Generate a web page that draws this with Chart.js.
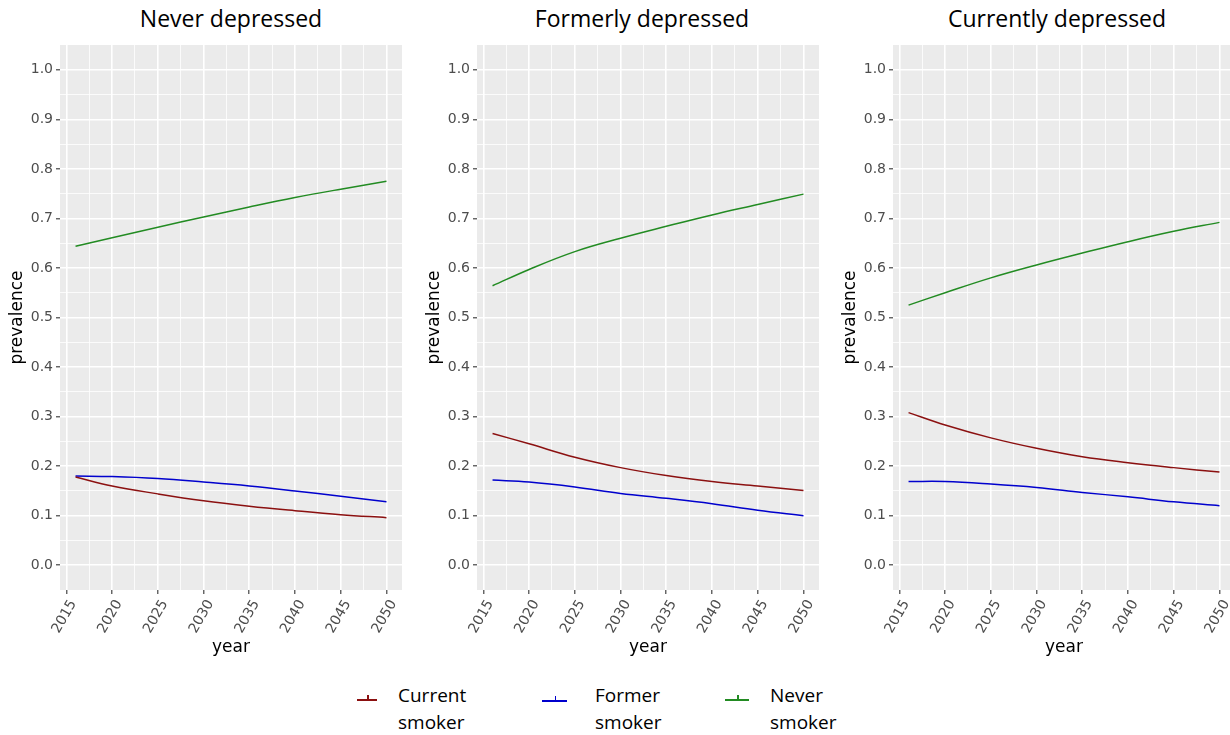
<!DOCTYPE html>
<html>
<head>
<meta charset="utf-8">
<script src="https://cdn.jsdelivr.net/npm/chart.js@4/dist/chart.umd.min.js"></script>
<style>
  body { margin: 0; width: 1230px; height: 735px; overflow: hidden; background: #fff; position: relative; }
  .panel { position: absolute; top: 45px; width: 402px; height: 615px; }
  .title { position: absolute; top: 7px; width: 300px; text-align: center; font-family: "Open Sans", sans-serif; font-size: 23px; line-height: 23px; color: #000; }
  .key { position: absolute; height: 2px; }
  .key span { position: absolute; left: 50%; top: -4px; width: 1.5px; height: 5px; background: inherit; }
  .keytext { position: absolute; top: 682px; font-family: "Open Sans", sans-serif; font-size: 19px; line-height: 27px; color: #000; }
</style>
</head>
<body>
<div class="title" style="left:81px">Never depressed</div>
<div class="title" style="left:492px">Formerly depressed</div>
<div class="title" style="left:907px">Currently depressed</div>

<div class="panel" style="left:0px"><canvas id="c1" width="402" height="615"></canvas></div>
<div class="panel" style="left:417px"><canvas id="c2" width="402" height="615"></canvas></div>
<div class="panel" style="left:833px"><canvas id="c3" width="402" height="615"></canvas></div>

<div class="key" style="left:357px;top:699px;width:20px;background:#8b1010"><span></span></div>
<div class="keytext" style="left:398px">Current<br>smoker</div>
<div class="key" style="left:542px;top:700px;width:25px;background:#0000cd"><span></span></div>
<div class="keytext" style="left:595px">Former<br>smoker</div>
<div class="key" style="left:725px;top:699px;width:24px;background:#228b22"><span></span></div>
<div class="keytext" style="left:770px">Never<br>smoker</div>

<script>
const years = [2016, 2020, 2025, 2030, 2035, 2040, 2045, 2050];

const neverDepCurrent = [0.178, 0.160, 0.144, 0.130, 0.119, 0.110, 0.102, 0.096];
const neverDepFormer = [0.180, 0.179, 0.175, 0.168, 0.160, 0.150, 0.139, 0.128];
const neverDepNever = [0.644, 0.661, 0.682, 0.703, 0.723, 0.742, 0.759, 0.775];

const formerDepCurrent = [0.266, 0.245, 0.218, 0.197, 0.181, 0.169, 0.160, 0.151];
const formerDepFormer = [0.172, 0.168, 0.158, 0.145, 0.135, 0.124, 0.111, 0.100];
const formerDepNever = [0.564, 0.597, 0.633, 0.660, 0.684, 0.707, 0.728, 0.749];

const currentDepCurrent = [0.308, 0.283, 0.257, 0.236, 0.219, 0.207, 0.197, 0.188];
const currentDepFormer = [0.169, 0.169, 0.164, 0.157, 0.147, 0.138, 0.128, 0.120];
const currentDepNever = [0.525, 0.550, 0.580, 0.606, 0.630, 0.653, 0.674, 0.692];

const xTicks = [2015, 2020, 2025, 2030, 2035, 2040, 2045, 2050];
const yTicks = [0, 0.1, 0.2, 0.3, 0.4, 0.5, 0.6, 0.7, 0.8, 0.9, 1.0];

const tickFont = { family: "DejaVu Sans", size: 14 };
const axisFont = { family: "DejaVu Sans", size: 17 };

// major ticks plus the ggplot-style minor breaks halfway between them
const xAll = [];
xTicks.forEach((v, i) => {
  xAll.push(v);
  if (i < xTicks.length - 1) xAll.push((v + xTicks[i + 1]) / 2);
});
const yAll = [];
yTicks.forEach((v, i) => {
  yAll.push(v);
  if (i < yTicks.length - 1) yAll.push((v + yTicks[i + 1]) / 2);
});

const isMajorX = v => xTicks.includes(v);
const isMajorY = v => yTicks.some(t => Math.abs(t - v) < 1e-9);

const panelBg = {
  id: "panelBg",
  beforeDraw(chart) {
    const a = chart.chartArea;
    chart.ctx.save();
    chart.ctx.fillStyle = "#ebebeb";
    chart.ctx.fillRect(a.left, a.top, a.right - a.left, a.bottom - a.top);
    chart.ctx.restore();
  }
};

function line(values, color) {
  return {
    data: years.map((y, i) => ({ x: y, y: values[i] })),
    borderColor: color,
    borderWidth: 1.5,
    pointRadius: 0,
    tension: 0.4,
    fill: false
  };
}

function makePanel(id, current, former, never) {
  new Chart(document.getElementById(id), {
    type: "line",
    data: {
      datasets: [
        line(current, "#8b1010"),
        line(former, "#0000cd"),
        line(never, "#228b22")
      ]
    },
    options: {
      responsive: false,
      animation: false,
      layout: { padding: 0, autoPadding: false },
      plugins: { legend: { display: false }, tooltip: { enabled: false } },
      scales: {
        x: {
          type: "linear",
          min: 2014.3,
          max: 2051.7,
          afterBuildTicks: s => { s.ticks = xAll.map(v => ({ value: v })); },
          afterFit: s => { s.height = 70; s.paddingLeft = 0; s.paddingRight = 0; },
          border: { display: false },
          grid: {
            color: "#ffffff",
            lineWidth: c => isMajorX(c.tick.value) ? 1.6 : 0.8,
            tickLength: 4,
            tickWidth: 1.1,
            tickColor: c => isMajorX(c.tick.value) ? "#333333" : "rgba(0,0,0,0)"
          },
          ticks: {
            autoSkip: false,
            minRotation: 60,
            maxRotation: 60,
            padding: 3,
            labelOffset: 7,
            color: "#4d4d4d",
            font: tickFont,
            callback: v => isMajorX(v) ? String(v) : ""
          },
          title: { display: true, text: "year", color: "#000", font: axisFont, padding: { top: 0, bottom: 2 } }
        },
        y: {
          min: -0.05,
          max: 1.05,
          afterBuildTicks: s => { s.ticks = yAll.map(v => ({ value: v })); },
          afterFit: s => { s.width = 60; s.paddingTop = 0; s.paddingBottom = 0; },
          border: { display: false },
          grid: {
            color: "#ffffff",
            lineWidth: c => isMajorY(c.tick.value) ? 1.6 : 0.8,
            tickLength: 4,
            tickWidth: 1.1,
            tickColor: c => isMajorY(c.tick.value) ? "#333333" : "rgba(0,0,0,0)"
          },
          ticks: {
            padding: 3,
            color: "#4d4d4d",
            font: tickFont,
            callback: v => isMajorY(v) ? v.toFixed(1) : ""
          },
          title: { display: true, text: "prevalence", color: "#000", font: axisFont, padding: { top: 7.8, bottom: 0 } }
        }
      }
    },
    plugins: [panelBg]
  });
}

makePanel("c1", neverDepCurrent, neverDepFormer, neverDepNever);
makePanel("c2", formerDepCurrent, formerDepFormer, formerDepNever);
makePanel("c3", currentDepCurrent, currentDepFormer, currentDepNever);
</script>
</body>
</html>
